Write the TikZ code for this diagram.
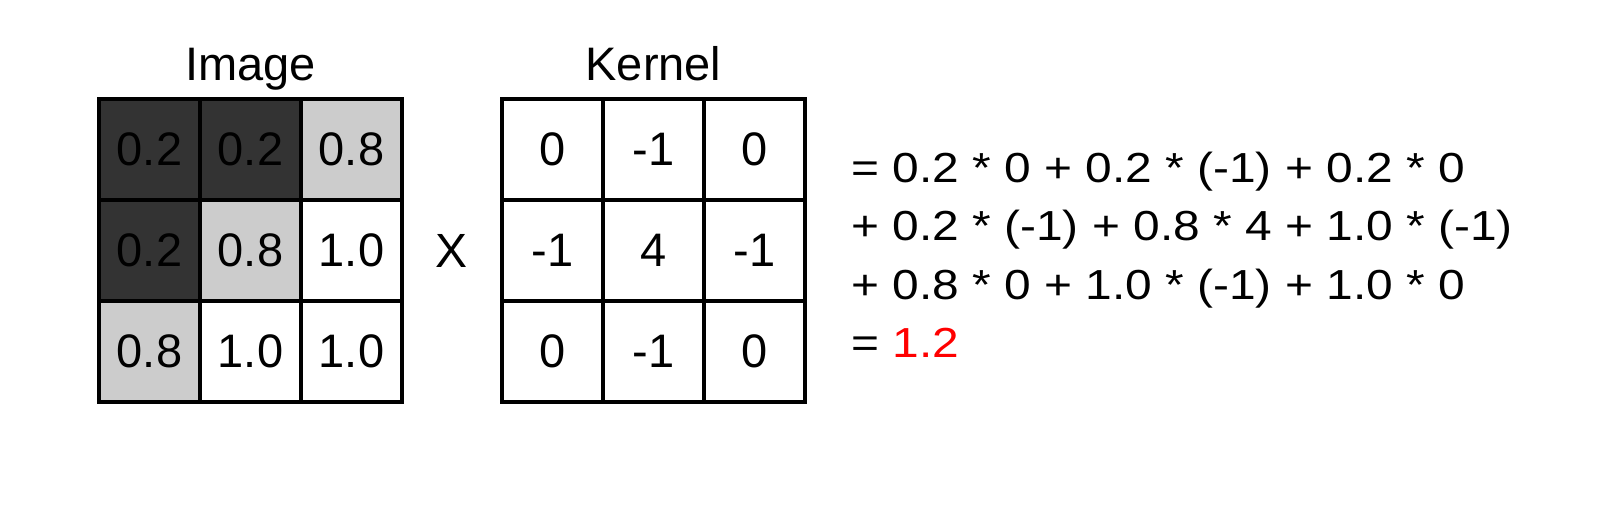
\documentclass[tikz,border=0pt]{standalone}
\usepackage{fontspec}
\setmainfont{Liberation Sans}
\newfontfamily\eqfont[FakeStretch=1.14]{Liberation Sans}
\definecolor{darkcell}{HTML}{333333}
\definecolor{lightcell}{HTML}{CCCCCC}
\begin{document}
\begin{tikzpicture}[x=0.5pt,y=-0.5pt,
  cell/.style={draw=black, line width=1.6pt, minimum size=50.5pt, inner sep=0pt,
    font=\fontsize{23.5}{28}\selectfont},
  dark/.style={cell, fill=darkcell},
  light/.style={cell, fill=lightcell},
  white/.style={cell, fill=white},
  title/.style={anchor=base, inner sep=0pt, font=\fontsize{23.5}{28}\selectfont},
  eqline/.style={anchor=base west, inner sep=0pt, font=\eqfont\fontsize{21}{25}\selectfont}]
\useasboundingbox[fill=white] (0,0) rectangle (1612,505);
% Image grid
\node[dark]  (i11) at (149.5,149.5) {0.2};
\node[dark]  (i12) at (250.5,149.5) {0.2};
\node[light] (i13) at (351.5,149.5) {0.8};
\node[dark]  (i21) at (149.5,250.5) {0.2};
\node[light] (i22) at (250.5,250.5) {0.8};
\node[white] (i23) at (351.5,250.5) {1.0};
\node[light] (i31) at (149.5,351.5) {0.8};
\node[white] (i32) at (250.5,351.5) {1.0};
\node[white] (i33) at (351.5,351.5) {1.0};
% Kernel grid
\node[white] (k11) at (552.5,149.5) {0};
\node[white] (k12) at (653.5,149.5) {-1};
\node[white] (k13) at (754.5,149.5) {0};
\node[white] (k21) at (552.5,250.5) {-1};
\node[white] (k22) at (653.5,250.5) {4};
\node[white] (k23) at (754.5,250.5) {-1};
\node[white] (k31) at (552.5,351.5) {0};
\node[white] (k32) at (653.5,351.5) {-1};
\node[white] (k33) at (754.5,351.5) {0};
% Titles
\node[title] (imgtitle) at (250.5,80) {Image};
\node[title] (kertitle) at (653.5,80) {Kernel};
% Times sign
\node[inner sep=0pt, font=\fontsize{24}{28}\selectfont] (times) at (452,251) {X};
% Equation
\node[eqline] (eq1) at (851,182) {= 0.2 * 0 + 0.2 * (-1) + 0.2 * 0};
\node[eqline] (eq2) at (851,240.5) {+ 0.2 * (-1) + 0.8 * 4 + 1.0 * (-1)};
\node[eqline] (eq3) at (851,299) {+ 0.8 * 0 + 1.0 * (-1) + 1.0 * 0};
\node[eqline] (eq4) at (851,357.5) {= \textcolor{red}{1.2}};
\end{tikzpicture}
\end{document}
